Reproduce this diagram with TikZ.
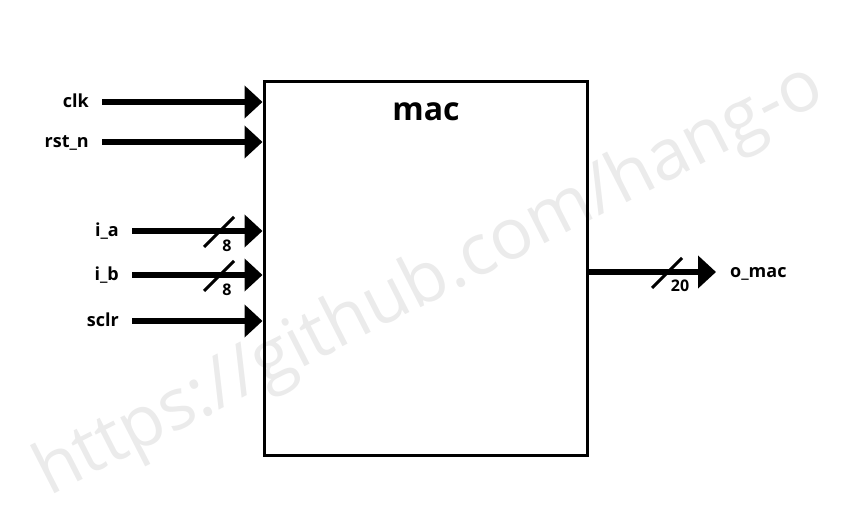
\documentclass[tikz,border=0pt]{standalone}
\usepackage{fontspec}
\setmainfont{Open Sans}
\usetikzlibrary{arrows.meta,positioning}

\begin{document}
\begin{tikzpicture}[x=1pt,y=-1pt,
    port/.style={font=\bfseries\fontsize{18}{18}\selectfont, text height=10pt, text depth=0pt, inner xsep=13pt, inner ysep=0pt},
    sig/.style={line width=6pt, -{Triangle[length=18pt,width=32pt]}},
    bus/.style={line width=3pt},
    buswidth/.style={font=\bfseries\fontsize{16}{16}\selectfont, inner sep=0pt}]
    \useasboundingbox (0,0) rectangle (855,511);
    % Watermark
    \node[rotate=27, text=black!8, font=\fontsize{71}{71}\selectfont] (wmark) at (430,282) {https://github.com/hang-o};
    % Block
    \node[draw, line width=3pt, minimum width=323pt, minimum height=373pt, inner sep=0pt] (mac) at (425.5,268.5) {};
    \node[font=\bfseries\fontsize{32}{32}\selectfont] (title) at (426,112) {mac};
    % Inputs
    \node[port, anchor=east] (clk) at (102,102) {clk};
    \node[port, anchor=east] (rstn) at (102,142) {rst\_n};
    \node[port, anchor=east] (ia) at (132,231) {i\_a};
    \node[port, anchor=east] (ib) at (132,275) {i\_b};
    \node[port, anchor=east] (sclr) at (132,321) {sclr};
    \draw[sig] (clk.east) -- (clk.east -| mac.west);
    \draw[sig] (rstn.east) -- (rstn.east -| mac.west);
    \draw[sig] (ia.east) -- (ia.east -| mac.west);
    \draw[sig] (ib.east) -- (ib.east -| mac.west);
    \draw[sig] (sclr.east) -- (sclr.east -| mac.west);
    % Output
    \node[port, anchor=west, inner xsep=14pt] (omac) at (716,272) {o\_mac};
    \draw[sig] (omac.west -| mac.east) -- (omac.west);
    % Bus widths
    \draw[bus] (204,247) -- (234,217);
    \node[buswidth] (wa) at (227,246) {8};
    \draw[bus] (204,291) -- (234,261);
    \node[buswidth] (wb) at (227,290) {8};
    \draw[bus] (652,288) -- (682,258);
    \node[buswidth] (wo) at (680,286) {20};
\end{tikzpicture}
\end{document}
